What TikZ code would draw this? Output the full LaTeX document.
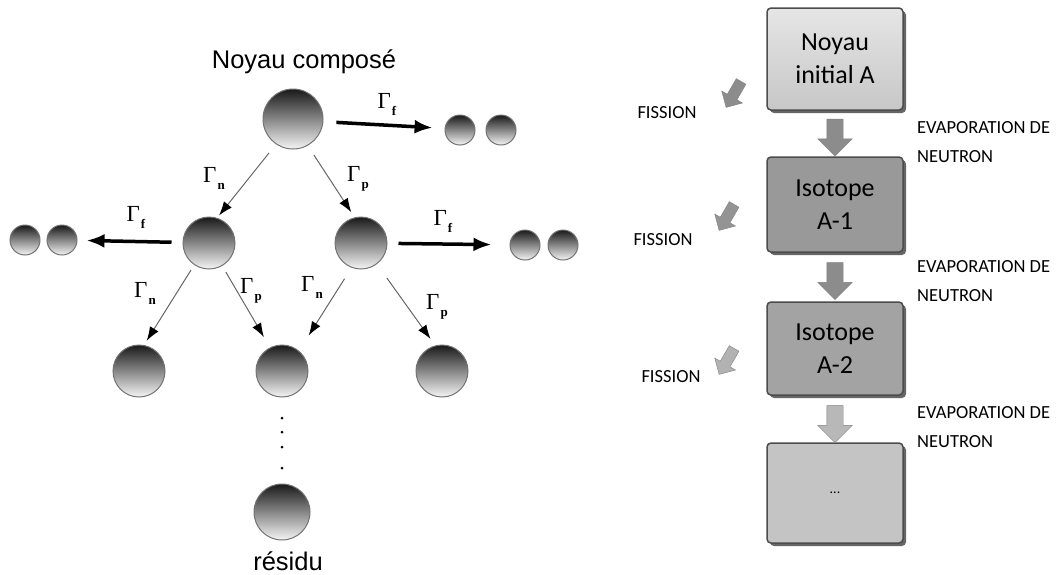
\documentclass[tikz,border=0pt]{standalone}
\usepackage{fontspec}
\newfontfamily\arialfont{Liberation Sans}
\newfontfamily\timesfont{Liberation Serif}
\newfontfamily\calibfont{Carlito}
\usetikzlibrary{arrows.meta,shapes.arrows}
\newcommand{\gam}[1]{{\timesfont\fontsize{23}{23}\selectfont Γ\kern1pt\raisebox{-7pt}{\fontsize{13}{13}\selectfont\bfseries #1}}}

\begin{document}
\begin{tikzpicture}[x=1pt, y=-1pt,
  sphere node/.style={circle,draw=black!55,line width=1pt,top color=black!90,bottom color=black!4,minimum size=52pt,inner sep=0pt},
  pair node/.style={sphere node,minimum size=30pt},
  big node/.style={sphere node,minimum size=60pt},
  gamma node/.style={inner sep=0pt},
  thin arrow/.style={draw=black!60,line width=1pt,-{Latex[black,length=14pt,width=10pt]}},
  fission arrow/.style={line width=3.5pt,-{Latex[length=18pt,width=14pt]}},
  box node/.style={rectangle,rounded corners=4pt,draw=black!70,line width=1.5pt,minimum width=136pt,align=center,font=\calibfont\fontsize{26}{33}\selectfont,preaction={fill=black!60,transform canvas={xshift=3pt,yshift=-3pt}}},
  down arrow/.style={single arrow,rotate=-90,draw=black!50,minimum height=37pt,minimum width=34pt,inner sep=8pt,single arrow head extend=9pt},
  side arrow/.style={single arrow,rotate=240,draw=black!50,minimum height=30pt,minimum width=24pt,inner sep=5pt,single arrow head extend=6pt}]
\useasboundingbox (0,0) rectangle (1057,574);
% cascade de desexcitation
\begin{scope}[every node/.style={font=\arialfont\fontsize{25.5}{25.5}\selectfont}]
\node (titre) at (304,62) {Noyau compos\'e};
\node (residu) at (288,561) {r\'esidu};
\end{scope}
\node[big node] (top) at (293,119) {};
\node[sphere node] (nl) at (209,243) {};
\node[sphere node] (nr) at (361,243) {};
\node[sphere node] (bl) at (139,371) {};
\node[sphere node] (bm) at (282,371) {};
\node[sphere node] (br) at (442,371) {};
\node[sphere node,minimum size=56pt] (res) at (282,512) {};
\node[pair node] (tf1) at (460,130) {};
\node[pair node] (tf2) at (501,130) {};
\node[pair node] (lf1) at (25,240) {};
\node[pair node] (lf2) at (62,240) {};
\node[pair node] (rf1) at (525,245) {};
\node[pair node] (rf2) at (563,245) {};
\foreach \y in {418,432,447,468} \fill (282,\y) circle (1.5);
\begin{scope}[every node/.style={gamma node}]
\node (gf0) at (387,104) {\gam{f}};
\node (gf1) at (136,217) {\gam{f}};
\node (gf2) at (443,221) {\gam{f}};
\node (gn0) at (214,178) {\gam{n}};
\node (gp0) at (358,179) {\gam{p}};
\node (gn1) at (145,293) {\gam{n}};
\node (gp1) at (251,291) {\gam{p}};
\node (gn2) at (312,287) {\gam{n}};
\node (gp2) at (437,307) {\gam{p}};
\end{scope}
\draw[fission arrow,shorten <=13pt,shorten >=12pt] (top.-5) -- (tf1.174);
\draw[fission arrow,shorten <=11pt,shorten >=9pt] (nl) -- (lf2);
\draw[fission arrow,shorten <=11pt,shorten >=18pt] (nr) -- (rf1);
\draw[thin arrow,shorten <=11pt,shorten >=3pt] (top.236) -- (nl.72);
\draw[thin arrow,shorten <=11pt,shorten >=6pt] (top.299) -- (nr.104);
\draw[thin arrow,shorten <=6pt,shorten >=5pt] (nl.236) -- (bl.79);
\draw[thin arrow,shorten <=7pt,shorten >=12pt] (nl.300) -- (bm.117);
\draw[thin arrow,shorten <=13pt,shorten >=18pt] (nr.249) -- (bm.50);
\draw[thin arrow,shorten <=17pt,shorten >=8pt] (nr.307) -- (br.105);
% chaine d'isotopes
\node[box node,minimum height=102pt,top color=black!10,bottom color=black!22] (b1) at (835,59) {Noyau\\initial A};
\node[box node,minimum height=95pt,fill=black!40] (b2) at (835,204.5) {Isotope\\A-1};
\node[box node,minimum height=93pt,fill=black!36] (b3) at (835,348.5) {Isotope\\A-2};
\node[box node,minimum height=100pt,fill=black!23] (b4) at (835,493) {\fontsize{14}{14}\selectfont ...};
\node[down arrow,fill=black!45] (d1) at (835,133.5) {};
\node[down arrow,fill=black!45] (d2) at (835,277) {};
\node[down arrow,fill=black!28] (d3) at (835,420) {};
\node[side arrow,fill=black!45] (s1) at (735,92) {};
\node[side arrow,fill=black!42] (s2) at (728,215) {};
\node[side arrow,fill=black!30] (s3) at (728,359) {};
\begin{scope}[every node/.style={font=\calibfont\fontsize{18.5}{29}\selectfont}]
\node (fis1) at (667,113) {FISSION};
\node (fis2) at (663,240) {FISSION};
\node (fis3) at (671,377) {FISSION};
\node[align=left,anchor=west,inner sep=0pt] (evap1) at (917,142) {EVAPORATION DE\\NEUTRON};
\node[align=left,anchor=west,inner sep=0pt] (evap2) at (917,281) {EVAPORATION DE\\NEUTRON};
\node[align=left,anchor=west,inner sep=0pt] (evap3) at (917,427) {EVAPORATION DE\\NEUTRON};
\end{scope}
\end{tikzpicture}
\end{document}
